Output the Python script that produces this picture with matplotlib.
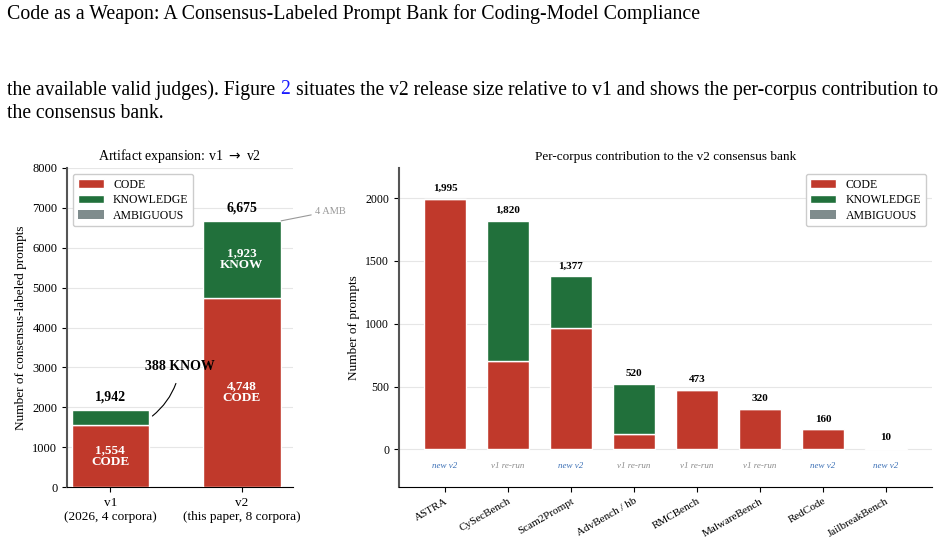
import numpy as np
import matplotlib
matplotlib.use("Agg")
import matplotlib.pyplot as plt

plt.rcParams['font.family'] = ['Liberation Serif', 'DejaVu Serif']

# ---- data ----
versions = ["v1\n(2026, 4 corpora)", "v2\n(this paper, 8 corpora)"]
ver_code = [1554, 4748]
ver_know = [388, 1923]
ver_amb = [0, 4]

corpora = ["ASTRA", "CySecBench", "Scam2Prompt", "AdvBench / hb", "RMCBench",
           "MalwareBench", "RedCode", "JailbreakBench"]
corp_code = [1995, 701, 969, 120, 473, 320, 160, 10]
corp_know = [0, 1119, 408, 400, 0, 0, 0, 0]
corp_amb = [0, 0, 0, 0, 0, 0, 0, 0]
corp_origin = ["new v2", "v1 re-run", "new v2", "v1 re-run", "v1 re-run",
               "v1 re-run", "new v2", "new v2"]

C_CODE = "#c0392b"
C_KNOW = "#21703b"
C_AMB = "#7f8c8d"

fig = plt.figure(figsize=(9.48, 5.41), dpi=100)

# page text
fig.text(7 / 948, 1 - 14 / 541, "Code as a Weapon: A Consensus-Labeled Prompt Bank for Coding-Model Compliance",
         fontsize=14.3, va="center", ha="left")
renderer = fig.canvas.get_renderer()
t1 = fig.text(7 / 948, 1 - 90 / 541, "the available valid judges). Figure ", fontsize=14.1, va="center", ha="left")
bb = t1.get_window_extent(renderer)
t2 = fig.text(bb.x1 / 948, 1 - 90 / 541, "2", fontsize=14.1, va="center", ha="left", color="#1a1aff")
bb2 = t2.get_window_extent(renderer)
fig.text(bb2.x1 / 948 + 0.006, 1 - 90 / 541,
         "situates the v2 release size relative to v1 and shows the per-corpus contribution to",
         fontsize=14.1, va="center", ha="left")
fig.text(7 / 948, 1 - 113 / 541, "the consensus bank.", fontsize=14.1, va="center", ha="left")

# ---- left panel ----
ax1 = fig.add_axes([67 / 948, 1 - 487 / 541, 226 / 948, 319 / 541])
x = np.arange(len(versions))
w = 0.59
tot_v = np.array(ver_code) + np.array(ver_know) + np.array(ver_amb)
ax1.bar(x, ver_code, w, color=C_CODE, edgecolor="white", linewidth=1, label="CODE", zorder=3)
ax1.bar(x, ver_know, w, bottom=ver_code, color=C_KNOW, edgecolor="white", linewidth=1,
        label="KNOWLEDGE", zorder=3)
ax1.bar(x, ver_amb, w, bottom=np.array(ver_code) + np.array(ver_know), color=C_AMB,
        edgecolor="white", linewidth=0, label="AMBIGUOUS", zorder=3)
ax1.set_xlim(-0.33, 1.39)
ax1.set_ylim(0, 8000)
ax1.set_yticks(np.arange(0, 8001, 1000))
ax1.set_xticks(x)
ax1.set_xticklabels(versions, fontsize=9.5)
ax1.tick_params(axis="y", labelsize=9)
ax1.set_ylabel("Number of consensus-labeled prompts", fontsize=9.5)
ax1.set_title("Artifact expansion: v1 $\\rightarrow$ v2", fontsize=10, pad=6)
ax1.grid(axis="y", color="#e6e6e6", linewidth=0.8, zorder=0)
ax1.spines["top"].set_visible(False)
ax1.spines["right"].set_visible(False)
ax1.spines["left"].set_color("#555555")
ax1.spines["left"].set_linewidth(1.5)
for i in range(len(versions)):
    ax1.text(x[i], tot_v[i] + 150, f"{tot_v[i]:,}", ha="center", va="bottom",
             fontsize=10, fontweight="bold")
ax1.text(0, ver_code[0] / 2, f"{ver_code[0]:,}\nCODE", ha="center", va="center",
         color="white", fontweight="bold", fontsize=9.5, linespacing=0.95, zorder=4)
ax1.text(1, ver_code[1] / 2, f"{ver_code[1]:,}\nCODE", ha="center", va="center",
         color="white", fontweight="bold", fontsize=9.5, linespacing=0.95, zorder=4)
ax1.text(1, ver_code[1] + ver_know[1] / 2, f"{ver_know[1]:,}\nKNOW", ha="center", va="center",
         color="white", fontweight="bold", fontsize=9.5, linespacing=0.95, zorder=4)
ax1.annotate(f"{ver_know[0]} KNOW", xy=(0.32, 1780), xytext=(0.53, 3030),
             ha="center", va="center", fontsize=10, fontweight="bold",
             arrowprops=dict(arrowstyle="-", color="black", lw=0.8,
                             connectionstyle="arc3,rad=-0.2", shrinkA=6, shrinkB=0))
ax1.annotate(f"{ver_amb[1]} AMB", xy=(1.3, tot_v[1]), xytext=(1.56, 6920),
             ha="left", va="center", fontsize=7.5, color="#999999",
             arrowprops=dict(arrowstyle="-", color="#999999", lw=0.8, shrinkA=1, shrinkB=0),
             annotation_clip=False)
ax1.legend(loc="upper left", fontsize=8.5, frameon=True, framealpha=1, edgecolor="#cccccc",
           handlelength=2.2, borderpad=0.4, labelspacing=0.3)

# ---- right panel ----
ax2 = fig.add_axes([399 / 948, 1 - 487 / 541, 533 / 948, 319 / 541])
xc = np.arange(len(corpora))
wc = 0.68
code = np.array(corp_code)
know = np.array(corp_know)
amb = np.array(corp_amb)
tot_c = code + know + amb
ax2.bar(xc, code, wc, color=C_CODE, edgecolor="white", linewidth=1, label="CODE", zorder=3)
ax2.bar(xc, know, wc, bottom=code, color=C_KNOW, edgecolor="white", linewidth=1,
        label="KNOWLEDGE", zorder=3)
ax2.bar(xc, amb, wc, bottom=code + know, color=C_AMB, edgecolor="white", linewidth=0,
        label="AMBIGUOUS", zorder=3)
for i in range(len(corpora)):
    ax2.text(xc[i], tot_c[i] + 45, f"{tot_c[i]:,}", ha="center", va="bottom",
             fontsize=8, fontweight="bold")
    col = "#3a6fb5" if corp_origin[i] == "new v2" else "#8a8a8a"
    ax2.text(xc[i], -130, corp_origin[i], ha="center", va="center", fontsize=6.5,
             style="italic", color=col)
ax2.set_xlim(-0.73, 7.73)
ax2.set_ylim(-300, 2240)
ax2.set_yticks([0, 500, 1000, 1500, 2000])
ax2.set_xticks(xc)
ax2.set_xticklabels(corpora, rotation=30, ha="right", rotation_mode="anchor", fontsize=8)
ax2.tick_params(axis="y", labelsize=8.5)
ax2.set_ylabel("Number of prompts", fontsize=9.5)
ax2.set_title("Per-corpus contribution to the v2 consensus bank", fontsize=9.5, pad=6)
ax2.grid(axis="y", color="#e6e6e6", linewidth=0.8, zorder=0)
ax2.spines["top"].set_visible(False)
ax2.spines["right"].set_visible(False)
ax2.spines["left"].set_color("#555555")
ax2.spines["left"].set_linewidth(1.5)
ax2.legend(loc="upper right", fontsize=8.5, frameon=True, framealpha=1, edgecolor="#cccccc",
           handlelength=2.2, borderpad=0.4, labelspacing=0.3)

fig.savefig("out.png", dpi=100)
